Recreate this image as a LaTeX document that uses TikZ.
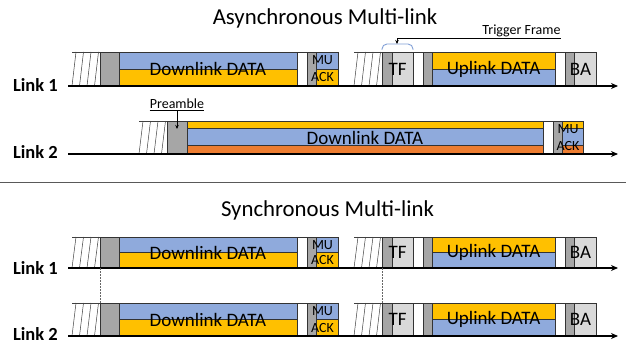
\documentclass[tikz,border=0pt]{standalone}
\usepackage{fontspec}
\setmainfont{Carlito}
\usetikzlibrary{arrows.meta}
\tikzstyle{timeline} = [x = 1pt, y = -1pt]
\definecolor{dataBlue}{RGB}{143,170,220}
\definecolor{dataOrange}{RGB}{255,192,0}
\definecolor{dataRed}{RGB}{237,125,49}
\definecolor{preambleGrey}{RGB}{166,166,166}
\definecolor{frameGrey}{RGB}{217,217,217}
\definecolor{braceBlue}{RGB}{130,160,215}
\tikzstyle{blockStyle} = [draw=black!80, line width=0.7pt]
\tikzstyle{hatchLine} = [color=black!75, line width=0.5pt]
\tikzstyle{timeAxis} = [line width=2pt, -{Stealth[length=7pt, width=6pt]}]
\tikzstyle{linkLabel} = [font=\fontsize{18.5}{20}\selectfont\bfseries, anchor=base east, inner sep=0]
\tikzstyle{titleText} = [font=\fontsize{22.8}{26}\selectfont, anchor=base, inner sep=0]
\tikzstyle{dataText} = [font=\fontsize{19}{21}\selectfont, inner sep=0]
\tikzstyle{ackText} = [font=\fontsize{14}{15}\selectfont, inner sep=0]
\tikzstyle{noteText} = [font=\fontsize{14}{15}\selectfont, anchor=base, inner sep=0]
\tikzstyle{noteArrow} = [line width=0.7pt, -{Stealth[length=4pt, width=3.5pt]}]
\tikzstyle{syncLine} = [color=black!60, line width=0.6pt, dash pattern=on 1.5pt off 1.5pt]
\tikzstyle{braceLine} = [color=braceBlue, line width=0.9pt, rounded corners=5pt]
\newcommand{\plainBlock}[5]{\filldraw [blockStyle, fill=#5] (#1, #3) rectangle (#2, #4);}
\newcommand{\splitBlock}[6]{
  \pgfmathsetmacro{\splitY}{(#3 + #4) / 2}
  \filldraw [blockStyle, fill=#5] (#1, #3) rectangle (#2, \splitY);
  \filldraw [blockStyle, fill=#6] (#1, \splitY) rectangle (#2, #4);
}
\newcommand{\stripeBlock}[4]{
  \pgfmathsetmacro{\stripeA}{#3 + 7.5}
  \pgfmathsetmacro{\stripeB}{#4 - 8.5}
  \filldraw [blockStyle, fill=dataOrange] (#1, #3) rectangle (#2, \stripeA);
  \filldraw [blockStyle, fill=dataBlue] (#1, \stripeA) rectangle (#2, \stripeB);
  \filldraw [blockStyle, fill=dataRed] (#1, \stripeB) rectangle (#2, #4);
}
\newcommand{\hatchBlock}[3]{
  \draw [hatchLine] (#1, #2) -- +(28, 0);
  \foreach \stroke in {0,...,3} {
    \draw [hatchLine] (#1 + 7.5 * \stroke, #3) -- (#1 + 4 + 7.5 * \stroke, #2);
  }
}
\newcommand{\linkAxis}[4]{
  \node [linkLabel] (#1Label) at (58, #4) {#2};
  \coordinate (#1Start) at (68, #3);
  \coordinate (#1End) at (618, #3);
  \draw [timeAxis] (#1Start) -- (#1End);
}
\newcommand{\linkSequence}[3]{
  \pgfmathsetmacro{\midY}{(#1 + #2) / 2}
  \pgfmathsetmacro{\upperY}{(3 * #1 + #2) / 4}
  \pgfmathsetmacro{\lowerY}{(#1 + 3 * #2) / 4}
  \hatchBlock{72}{#1}{#2}
  \plainBlock{100}{119}{#1}{#2}{preambleGrey}
  \splitBlock{119}{297}{#1}{#2}{dataBlue}{dataOrange}
  \node [dataText] (#3Down) at (208, \midY) {Downlink DATA};
  \plainBlock{297}{307}{#1}{#2}{white}
  \plainBlock{307}{316}{#1}{#2}{preambleGrey}
  \splitBlock{316}{338}{#1}{#2}{dataBlue}{dataOrange}
  \node [ackText] (#3Mu) at (322.5, \upperY) {MU};
  \node [ackText] (#3Ack) at (322.5, \lowerY) {ACK};
  \hatchBlock{354}{#1}{#2}
  \plainBlock{382}{392}{#1}{#2}{preambleGrey}
  \plainBlock{392}{413}{#1}{#2}{frameGrey}
  \node [dataText] (#3Tf) at (397.5, \midY) {TF};
  \plainBlock{413}{423}{#1}{#2}{white}
  \plainBlock{423}{432}{#1}{#2}{preambleGrey}
  \splitBlock{432}{555}{#1}{#2}{dataOrange}{dataBlue}
  \node [dataText] (#3Up) at (493.5, \midY) {Uplink DATA};
  \plainBlock{555}{565}{#1}{#2}{white}
  \plainBlock{565}{574}{#1}{#2}{preambleGrey}
  \plainBlock{574}{596}{#1}{#2}{frameGrey}
  \node [dataText] (#3Ba) at (580.5, \midY) {BA};
  \coordinate (#3PreTop) at (100, #1);
  \coordinate (#3PreBottom) at (100, #2);
  \coordinate (#3TfTop) at (382, #1);
  \coordinate (#3TfBottom) at (382, #2);
}
\begin{document}
\begin{tikzpicture}[timeline]
  \useasboundingbox [fill=white] (0, 0) rectangle (626, 345);

  % asynchronous
  \node [titleText] (asyncTitle) at (325, 25) {Asynchronous Multi-link};
  \linkSequence{52}{86}{asyncOne}
  \linkAxis{asyncOne}{Link 1}{86}{92}

  \draw [braceLine] (382, 50) -- (382, 44) -- (413, 44) -- (413, 50);
  \coordinate (tfBrace) at (397, 44);
  \node [noteText] (triggerLabel) at (521.5, 34.5) {Trigger Frame};
  \draw [noteArrow] ([yshift=-3.5pt]triggerLabel.base east) -| (tfBrace);

  \hatchBlock{139}{121}{154}
  \plainBlock{167}{187}{121}{154}{preambleGrey}
  \stripeBlock{187}{543}{121}{154}
  \node [dataText] (asyncTwoDown) at (365, 137.5) {Downlink DATA};
  \plainBlock{543}{553}{121}{154}{white}
  \plainBlock{553}{562}{121}{154}{preambleGrey}
  \stripeBlock{562}{583}{121}{154}
  \node [ackText] (asyncTwoMu) at (568, 129) {MU};
  \node [ackText] (asyncTwoAck) at (568, 146.5) {ACK};
  \linkAxis{asyncTwo}{Link 2}{154}{158}

  \node [noteText] (preambleLabel) at (177, 108) {Preamble};
  \draw [line width=0.7pt] ([yshift=-2pt]preambleLabel.base west) -- ([yshift=-2pt]preambleLabel.base east);
  \coordinate (preambleTip) at (177, 129);
  \draw [noteArrow] ([yshift=-2pt]preambleLabel.base) -- (preambleTip);

  \coordinate (splitLeft) at (0, 182);
  \coordinate (splitRight) at (626, 182);
  \draw [color=black!65, line width=1pt] (splitLeft) -- (splitRight);

  % synchronous
  \node [titleText] (syncTitle) at (327.5, 216) {Synchronous Multi-link};
  \linkSequence{237}{268}{syncOne}
  \linkAxis{syncOne}{Link 1}{268}{274}
  \linkSequence{303}{336}{syncTwo}
  \linkAxis{syncTwo}{Link 2}{336}{340}

  \draw [syncLine] (syncOnePreBottom) -- (syncTwoPreTop);
  \draw [syncLine] (syncOneTfBottom) -- (syncTwoTfTop);
\end{tikzpicture}
\end{document}
